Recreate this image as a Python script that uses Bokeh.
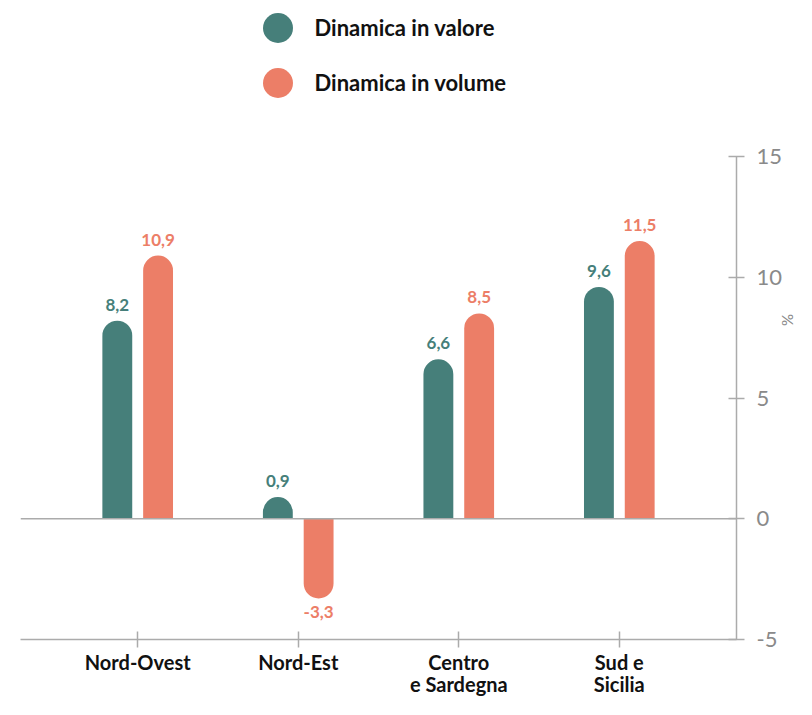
from bokeh.plotting import figure
from bokeh.models import (ColumnDataSource, FactorRange, Range1d, FixedTicker, Span,
                          Legend, LegendItem)
from bokeh.transform import dodge
from bokeh.core.properties import value
from bokeh.embed import file_html
from bokeh.resources import INLINE

# ---- data ----
regions = ["Nord-Ovest", "Nord-Est", "Centro\ne Sardegna", "Sud e\nSicilia"]
valore = [8.2, 0.9, 6.6, 9.6]
volume = [10.9, -3.3, 8.5, 11.5]
y_ticks = [-5, 0, 5, 10, 15]
series_names = ["Dinamica in valore", "Dinamica in volume"]

TEAL = "#467F7A"
CORAL = "#EC7E67"
AXIS = "#ababab"
FONT = "Lato"


def fmt(v):
    return f"{v:.1f}".replace(".", ",")


# frame reaches the top of the canvas so the legend (drawn inside the frame) is not clipped;
# the value axis itself is bounded to -5..15
p = figure(
    x_range=FactorRange(factors=regions, range_padding=0.23, range_padding_units="absolute"),
    y_range=Range1d(-5, 21.46),
    width=800, height=699,
    y_axis_location="right",
    output_backend="svg", toolbar_location=None,
    min_border_left=20, min_border_top=0, min_border_right=0, min_border_bottom=0,
)
p.outline_line_color = None
p.xgrid.visible = False
p.ygrid.visible = False

p.add_layout(Span(location=0, dimension="width", line_color=AXIS, line_width=1.5))

OFF = 0.127
W = 0.186
legend_renderers = []
for vals, color, off in [(valore, TEAL, -OFF), (volume, CORAL, OFF)]:
    full = ColumnDataSource(dict(x=regions, top=vals))
    # hidden circle renderer used only to draw the legend swatch
    legend_renderers.append(
        p.scatter(x=dodge("x", off, range=p.x_range), y="top", source=full,
                  marker="circle", size=30, fill_color=color, line_color=None,
                  visible=False))
    pos = [(r, v) for r, v in zip(regions, vals) if v >= 0]
    neg = [(r, v) for r, v in zip(regions, vals) if v < 0]
    for subset, radius, yoff, base in [(pos, (15, 15, 0, 0), -10, "bottom"),
                                       (neg, (0, 0, 15, 15), 8, "top")]:
        if not subset:
            continue
        src = ColumnDataSource(dict(
            x=[s[0] for s in subset],
            top=[s[1] for s in subset],
            label=[fmt(s[1]) for s in subset],
        ))
        p.vbar(x=dodge("x", off, range=p.x_range), top="top", bottom=0, width=W,
               source=src, fill_color=color, line_color=None, border_radius=radius)
        p.text(x=dodge("x", off, range=p.x_range), y="top", text="label", source=src,
               y_offset=yoff, text_align="center", text_baseline=base,
               text_font=value(FONT), text_font_style="bold", text_font_size="17px",
               text_color=color)

# one legend per entry for exact spacing
for name, rend, loc in [(series_names[0], legend_renderers[0], (219.5, 574.5)),
                        (series_names[1], legend_renderers[1], (219.5, 519.5))]:
    lg = Legend(
        items=[LegendItem(label=name, renderers=[rend])],
        location=loc, glyph_width=75, glyph_height=75,
        padding=0, margin=0, label_standoff=-8, border_line_color=None,
        background_fill_alpha=0, inactive_fill_alpha=0,
        label_text_font=FONT, label_text_font_size="22px", label_text_font_style="bold",
        label_text_color="#111111",
    )
    p.add_layout(lg, "center")

# y axis (right)
ya = p.yaxis[0]
ya.bounds = (-5, 15)
ya.ticker = FixedTicker(ticks=y_ticks)
ya.major_label_overrides = {t: str(t) for t in y_ticks}
ya.axis_label = "%"
ya.axis_label_text_font = FONT
ya.axis_label_text_font_style = "normal"
ya.axis_label_text_font_size = "15px"
ya.axis_label_text_color = "#888888"
ya.axis_label_standoff = -6
ya.major_label_text_font = FONT
ya.major_label_text_font_size = "22px"
ya.major_label_text_color = "#8a8a8a"
ya.major_label_text_align = "left"
ya.major_label_standoff = 12
ya.major_tick_in = 8
ya.major_tick_out = 8
ya.minor_tick_in = 0
ya.minor_tick_out = 0
ya.axis_line_color = AXIS
ya.axis_line_width = 1.5
ya.major_tick_line_color = AXIS
ya.major_tick_line_width = 1.5

# x axis
xa = p.xaxis[0]
xa.major_label_text_font = FONT
xa.major_label_text_font_size = "20px"
xa.major_label_text_font_style = "bold"
xa.major_label_text_color = "#111111"
xa.major_label_text_line_height = 0.95
xa.major_label_standoff = 2
xa.major_tick_in = 8
xa.major_tick_out = 8
xa.axis_line_color = AXIS
xa.axis_line_width = 1.5
xa.major_tick_line_color = AXIS
xa.major_tick_line_width = 1.5

open("out.html", "w").write(file_html(p, INLINE))
